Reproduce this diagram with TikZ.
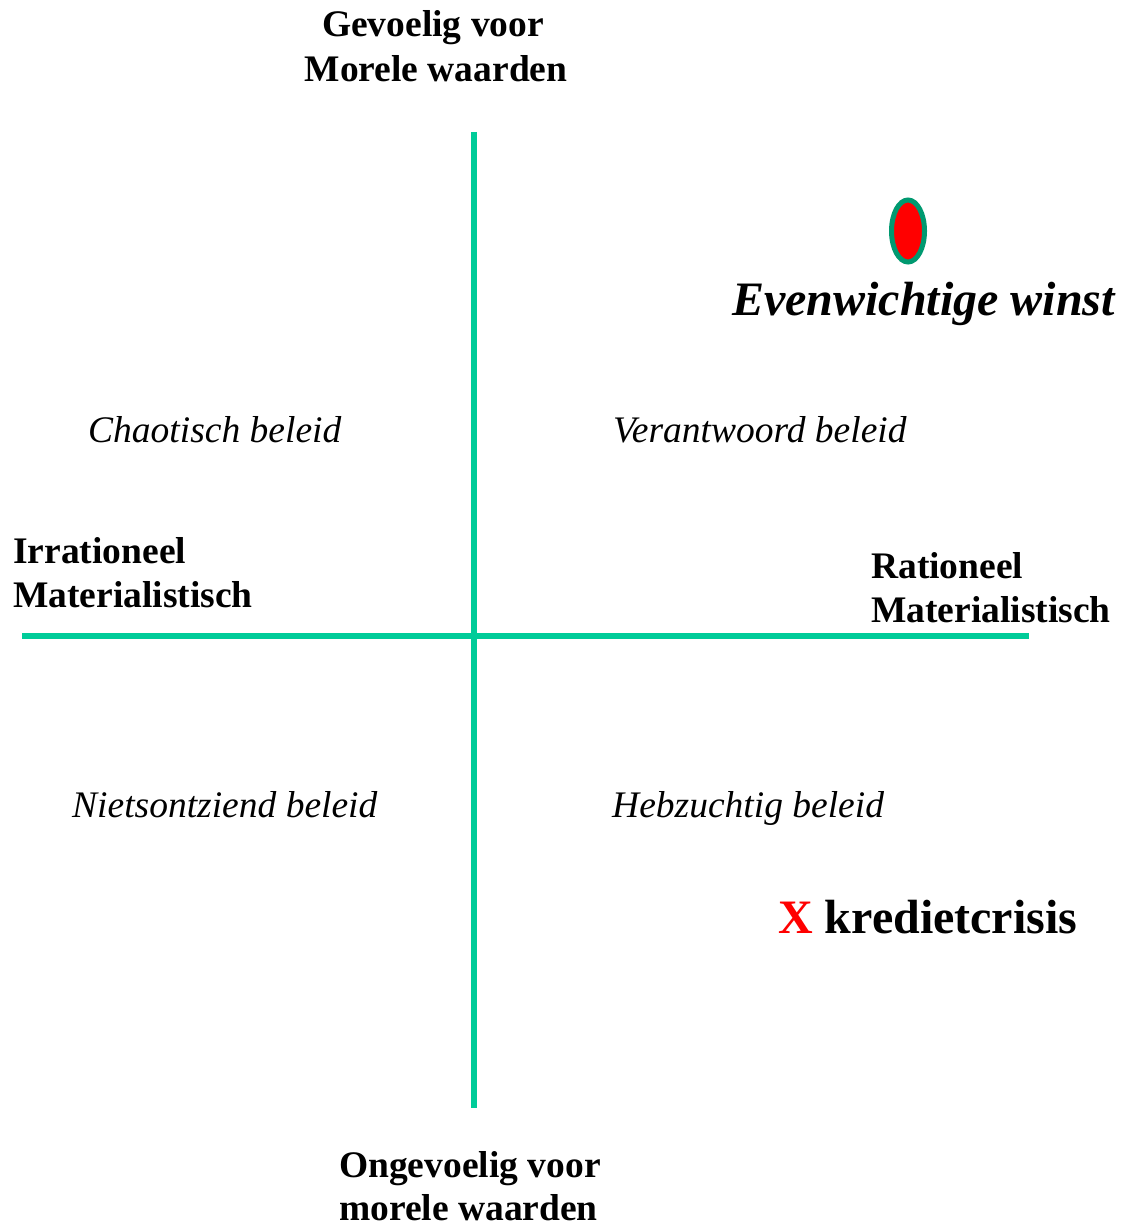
\documentclass[tikz,border=0pt]{standalone}
\usepackage{fontspec}
\setmainfont{Liberation Serif}
\usetikzlibrary{shapes.geometric}
\definecolor{axisgreen}{HTML}{00CC99}
\definecolor{ringgreen}{HTML}{009970}
\begin{document}
\begin{tikzpicture}[x=1pt,y=-1pt,
  lab/.style={inner sep=0pt,font=\fontsize{37.5}{44}\selectfont\bfseries},
  quad/.style={inner sep=0pt,font=\fontsize{37.5}{44}\selectfont\itshape},
  big/.style={inner sep=0pt,font=\fontsize{48}{56}\selectfont\bfseries},
  axis/.style={draw=axisgreen,line width=6pt}]
\useasboundingbox (0,0) rectangle (1120,1225);
% axes
\coordinate (vtop) at (474,132);
\coordinate (vbot) at (474,1108);
\coordinate (hl) at (22,636);
\coordinate (hr) at (1029,636);
\draw[axis] (vtop) -- (vbot);
\draw[axis] (hl) -- (hr);
% axis labels
\node[lab,anchor=base] (g1) at (433,37) {Gevoelig voor};
\node[lab,anchor=base] (g2) at (436,82) {Morele waarden};
\node[lab,anchor=base west] (o1) at (339,1177) {Ongevoelig voor};
\node[lab,anchor=base west] (o2) at (339,1220) {morele waarden};
\node[lab,anchor=base west] (i1) at (13,563) {Irrationeel};
\node[lab,anchor=base west] (i2) at (13,607) {Materialistisch};
\node[lab,anchor=base west] (r1) at (871,578) {Rationeel};
\node[lab,anchor=base west] (r2) at (871,622) {Materialistisch};
% quadrants
\node[quad,anchor=base west] (q1) at (88,442) {Chaotisch beleid};
\node[quad,anchor=base west] (q2) at (613,442) {Verantwoord beleid};
\node[quad,anchor=base west] (q3) at (72,817) {Nietsontziend beleid};
\node[quad,anchor=base west] (q4) at (612,817) {Hebzuchtig beleid};
% points
\node[draw=ringgreen,fill=red,line width=5pt,ellipse,minimum width=33pt,minimum height=62pt,inner sep=0pt] (dot) at (908,231) {};
\node[inner sep=0pt,anchor=base west,font=\fontsize{48}{56}\selectfont\bfseries\itshape] (ew) at (732,315) {Evenwichtige winst};
\node[big,anchor=base west] (kc) at (778,933) {\textcolor{red}{X} kredietcrisis};
\end{tikzpicture}
\end{document}
